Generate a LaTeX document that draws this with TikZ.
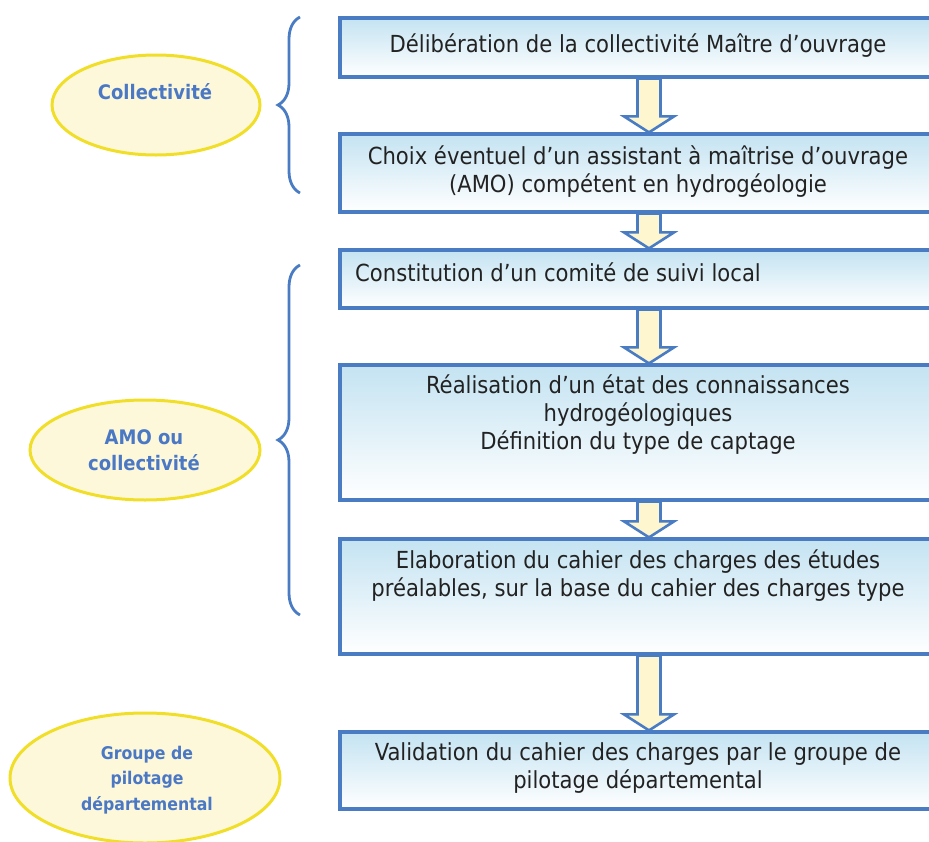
\documentclass[tikz,border=0pt]{standalone}
\usepackage{fontspec}
\setmainfont{DejaVu Sans Condensed}
\usetikzlibrary{calc,shapes.geometric,decorations.pathreplacing}

\definecolor{boxblue}{RGB}{74,124,196}
\definecolor{boxtop}{RGB}{196,227,242}
\definecolor{arrfill}{RGB}{253,246,206}
\definecolor{ellline}{RGB}{240,222,40}
\definecolor{ellfill}{RGB}{253,248,218}
\definecolor{elltext}{RGB}{74,120,196}
\definecolor{bodytext}{RGB}{34,34,34}

\tikzset{
  stepbox/.style={rectangle, draw=boxblue, line width=3.2pt,
    top color=boxtop, bottom color=white, minimum width=596pt, inner sep=0pt},
  steptext/.style={text=bodytext, font=\fontsize{23.5}{28}\selectfont, align=center, inner sep=0pt},
  actor/.style={ellipse, draw=ellline, fill=ellfill, line width=3pt, inner sep=0pt},
  actortext/.style={text=elltext, font=\bfseries\fontsize{20}{26}\selectfont, align=center, inner sep=0pt},
  blockarr/.style={draw=boxblue, fill=arrfill, line width=2.6pt, line join=miter},
  groupbrace/.style={draw=boxblue, line width=2.8pt, decorate,
    decoration={brace, amplitude=22pt}},
}

% block arrow from the bottom of one box to the top of the next
\newcommand\flowarrow[2]{%
  \path[blockarr] let \p1=($(#1.south)+(11pt,0)$), \p2=($(#2.north)+(11pt,0)$) in
    (\x1-11.5pt,\y1) -- (\x1-11.5pt,\y2+16pt) -- (\x1-25pt,\y2+16pt) -- (\x1,\y2)
    -- (\x1+25pt,\y2+16pt) -- (\x1+11.5pt,\y2+16pt) -- (\x1+11.5pt,\y1) -- cycle;}

\begin{document}
\begin{tikzpicture}[x=1pt,y=-1pt]
\useasboundingbox (0,0) rectangle (929,841);
\clip (0,0) rectangle (929,841);

% process steps
\node[stepbox, minimum height=59pt]  (b1) at (638,47.5) {};
\node[stepbox, minimum height=78pt]  (b2) at (638,173) {};
\node[stepbox, minimum height=58pt]  (b3) at (638,279) {};
\node[stepbox, minimum height=135pt] (b4) at (638,432.5) {};
\node[stepbox, minimum height=115pt] (b5) at (638,596.5) {};
\node[stepbox, minimum height=77pt]  (b6) at (638,770.5) {};

\node[steptext] (t1) at (638,46) {Délibération de la collectivité Maître d’ouvrage};
\node[steptext] (t2) at (638,172) {Choix éventuel d’un assistant à maîtrise d’ouvrage\\(AMO) compétent en hydrogéologie};
\node[steptext, anchor=west] (t3) at (355,272) {Constitution d’un comité de suivi local};
\node[steptext] (t4) at (638,415) {Réalisation d’un état des connaissances\\hydrogéologiques\\Définition du type de captage};
\node[steptext] (t5) at (638,576) {Elaboration du cahier des charges des études\\préalables, sur la base du cahier des charges type};
\node[steptext] (t6) at (638,768) {Validation du cahier des charges par le groupe de\\pilotage départemental};

% arrows between steps
\flowarrow{b1}{b2}
\flowarrow{b2}{b3}
\flowarrow{b3}{b4}
\flowarrow{b4}{b5}
\flowarrow{b5}{b6}

% actors
\node[actor, minimum width=208pt, minimum height=100pt] (e1) at (156,105) {};
\node[actortext] (a1) at (155,92) {Collectivité};
\node[actor, minimum width=230pt, minimum height=100pt] (e2) at (145,450) {};
\node[actortext] (a2) at (144,450) {AMO ou\\collectivité};
\node[actor, minimum width=270pt, minimum height=130pt] (e3) at (145,778) {};
\node[actortext, font=\bfseries\fontsize{17.5}{25.5}\selectfont] (a3) at (147,780) {Groupe de\\pilotage\\départemental};

% braces grouping the steps
\coordinate (br1a) at (300,193);
\coordinate (br1b) at (300,17);
\coordinate (br2a) at (300,615);
\coordinate (br2b) at (300,265);
\draw[groupbrace] (br1a) -- (br1b);
\draw[groupbrace] (br2a) -- (br2b);
\end{tikzpicture}
\end{document}
